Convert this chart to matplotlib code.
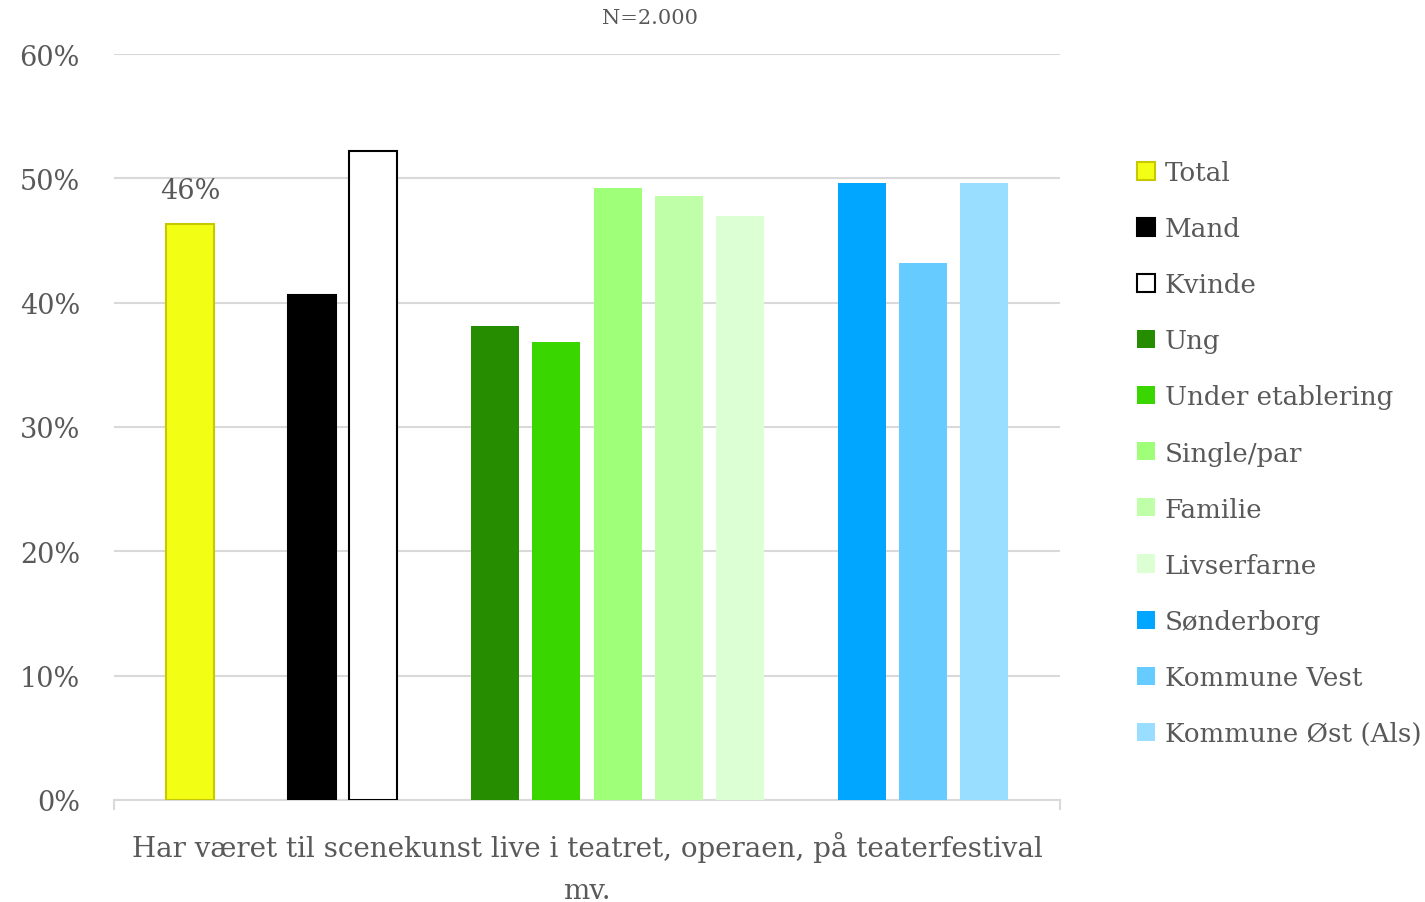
import matplotlib
matplotlib.use("Agg")
import matplotlib.pyplot as plt
import numpy as np
from matplotlib.patches import Patch

# ---- data ----
series = ["Total", "Mand", "Kvinde", "Ung", "Under etablering", "Single/par",
          "Familie", "Livserfarne", "Sønderborg", "Kommune Vest", "Kommune Øst (Als)"]
values = [0.463, 0.406, 0.522, 0.381, 0.368, 0.492, 0.486, 0.470, 0.496, 0.432, 0.496]
group_sizes = [1, 2, 5, 3]
category = "Har været til scenekunst live i teatret, operaen, på teaterfestival\nmv."
title = "N=2.000"
yticks = [0.0, 0.1, 0.2, 0.3, 0.4, 0.5, 0.6]
label_value = "46%"

fills = ["#F2FF14", "#000000", "#FFFFFF", "#268C00", "#39D600", "#A0FF78",
         "#BEFFA8", "#DDFFD4", "#00A6FF", "#66CCFF", "#99DDFF"]
edges = ["#C8C800", "#000000", "#000000", None, None, None, None, None, None, None, None]

# slot positions (one empty slot between groups)
slots = []
pos = 0
for g in group_sizes:
    for i in range(g):
        slots.append(pos)
        pos += 1
    pos += 1
slots = np.array(slots, dtype=float)

plt.rcParams['font.family'] = ['DejaVu Serif']
TXT = "#595959"
GRID = "#D9D9D9"

fig = plt.figure(figsize=(14.25, 9.03), dpi=100)
ax = fig.add_axes([114/1425, 1-801/903, (1060-114)/1425, (801-55)/903])

width = 0.786
for x, v, fc, ec in zip(slots, values, fills, edges):
    if ec is None:
        ax.bar(x, v, width=width, color=fc, edgecolor="none", zorder=3)
    else:
        ax.bar(x, v, width=width, color=fc, edgecolor=ec, linewidth=1.5, zorder=3)

ax.text(slots[0], values[0] + 0.0165, label_value, ha="center", va="bottom",
        fontsize=19.5, color=TXT)

ax.set_xlim(-1.244, slots[-1] + 1.244)
ax.set_ylim(0, 0.6)
ax.set_yticks(yticks)
ax.set_yticklabels([f"{int(round(t*100))}%" for t in yticks])
ax.tick_params(axis="y", length=0, pad=24.5, labelsize=19.5, labelcolor=TXT)
ax.yaxis.grid(True, color=GRID, linewidth=1.5, zorder=0)
ax.set_axisbelow(True)

xmid = (ax.get_xlim()[0] + ax.get_xlim()[1]) / 2
ax.set_xticks([xmid])
ax.set_xticklabels([category], fontsize=20, color=TXT, linespacing=1.73)
ax.tick_params(axis="x", length=0, pad=22)
# tick marks at category boundaries
ax.set_xticks(list(ax.get_xlim()), minor=True)
ax.tick_params(axis="x", which="minor", length=7, width=1.5, color=GRID)

for s in ["top", "right", "left"]:
    ax.spines[s].set_visible(False)
ax.spines["bottom"].set_color(GRID)
ax.spines["bottom"].set_linewidth(1.5)

handles = []
for fc, ec, name in zip(fills, edges, series):
    if ec is None:
        handles.append(Patch(facecolor=fc, edgecolor="none", label=name))
    else:
        handles.append(Patch(facecolor=fc, edgecolor=ec, linewidth=1.5, label=name))
leg = fig.legend(handles=handles, loc="center left", bbox_to_anchor=(1137/1425, 1-454/903),
                 frameon=False, fontsize=18.8, handlelength=0.69, handleheight=0.69,
                 handletextpad=0.38, labelspacing=1.19, borderaxespad=0, borderpad=0)
for t in leg.get_texts():
    t.set_color(TXT)

fig.text(650/1425, 1-19/903, title, ha="center", va="center", fontsize=15, color=TXT)

fig.savefig("out.png", dpi=100)
